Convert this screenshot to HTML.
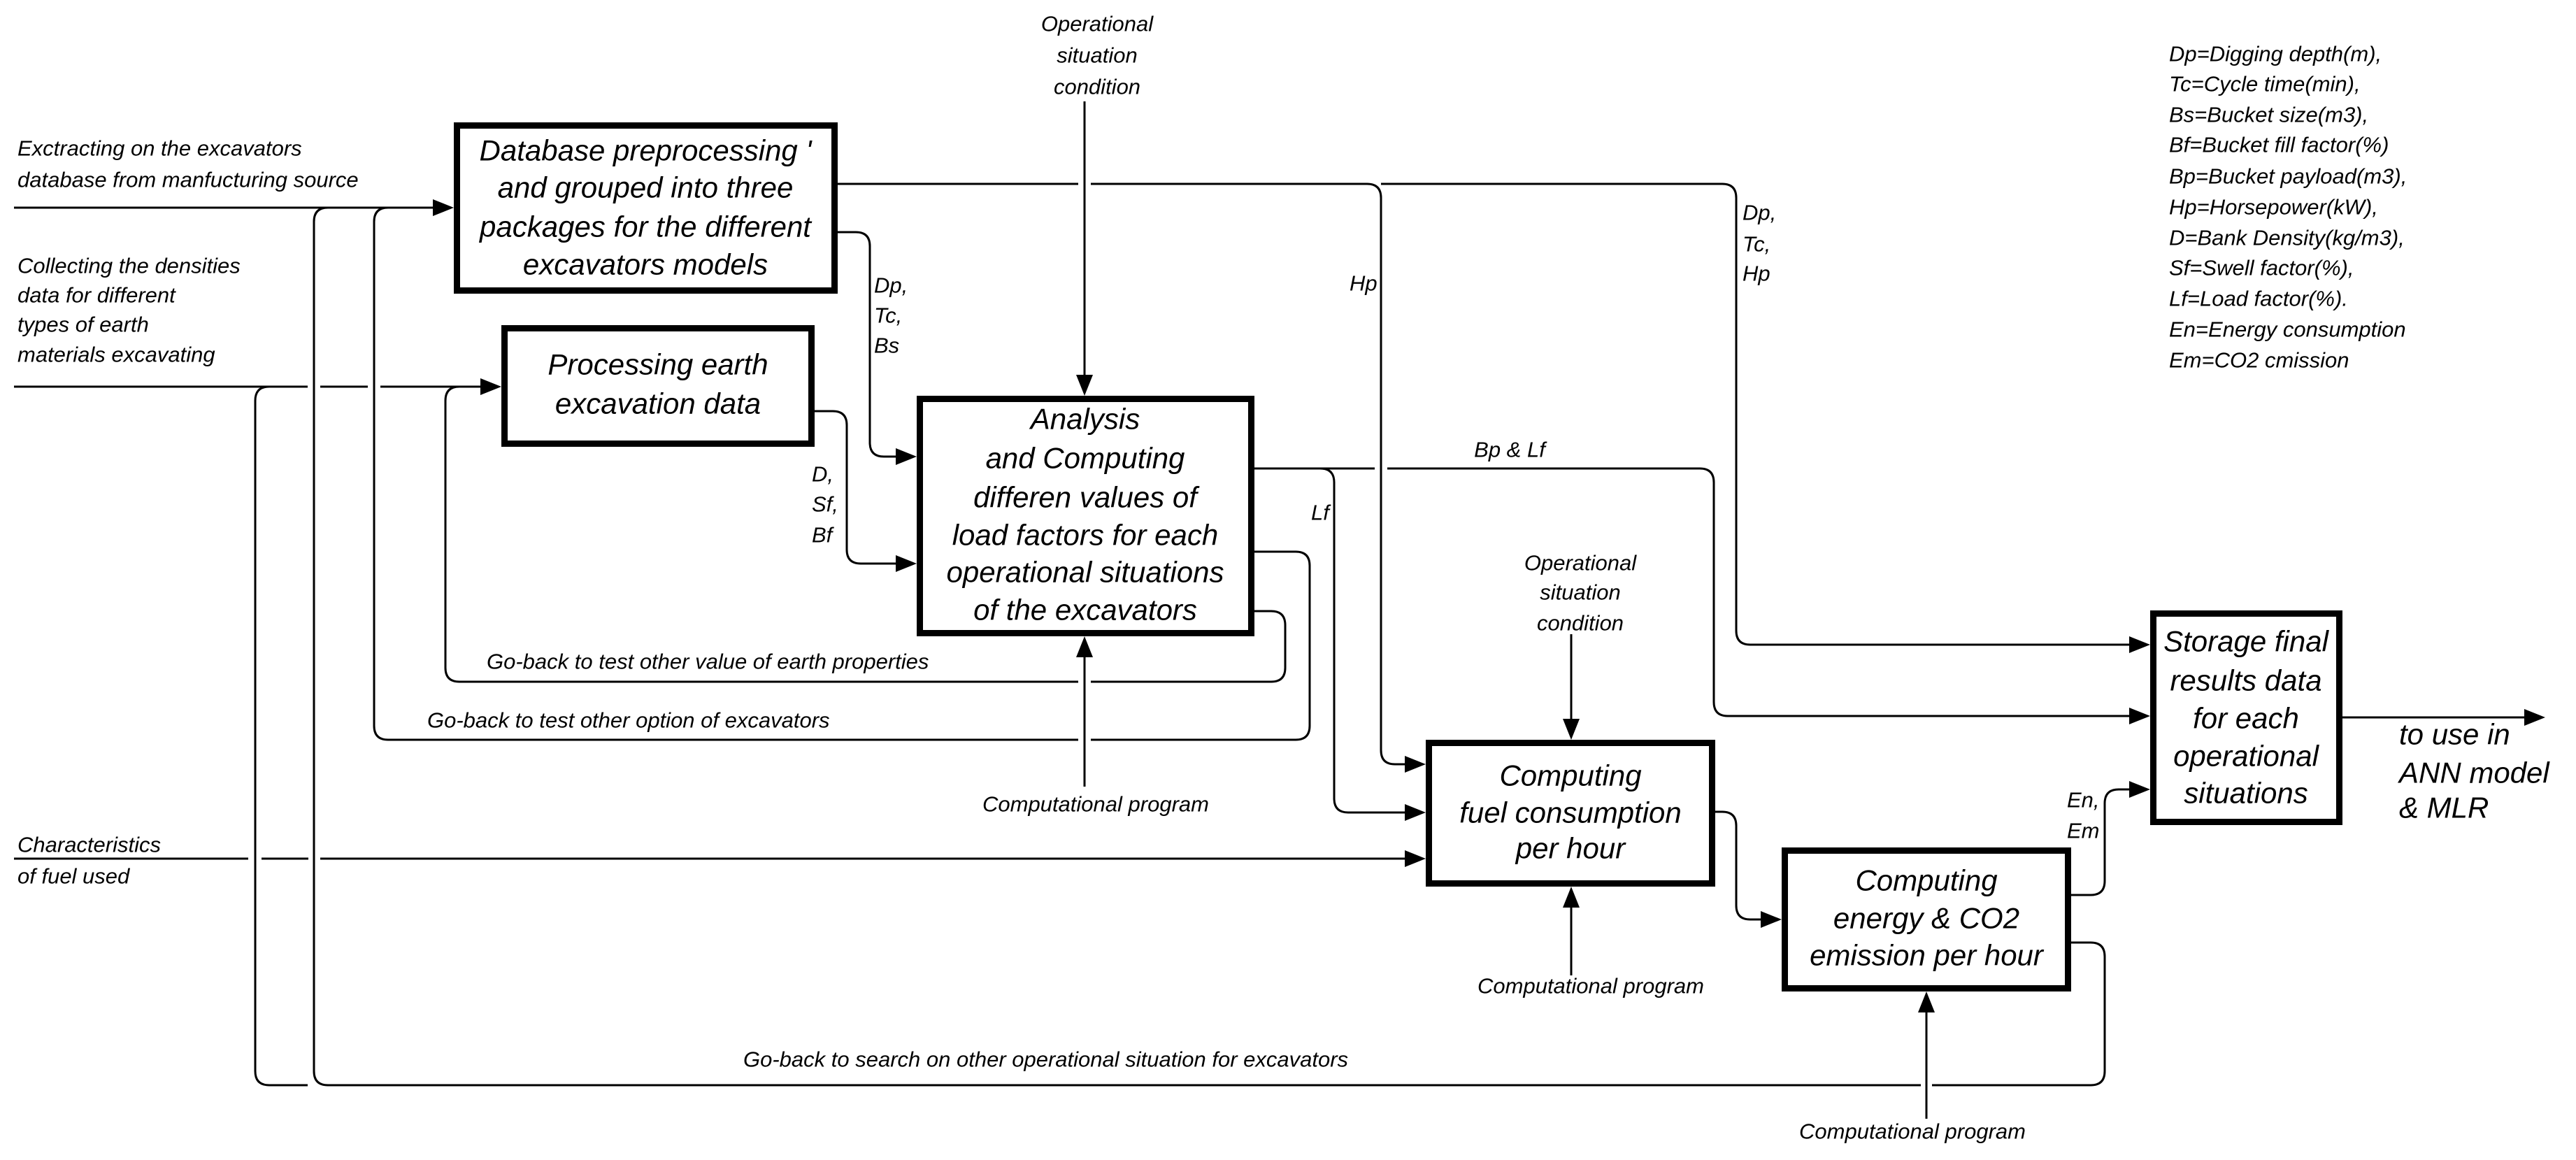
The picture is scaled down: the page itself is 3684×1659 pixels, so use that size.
<!DOCTYPE html>
<html><head><meta charset="utf-8"><style>
html,body{margin:0;padding:0;background:#fff;}
svg{display:block;}
text{font-family:"Liberation Sans",Arial,sans-serif;font-style:italic;fill:#000;}
.s{font-size:31px;}
.b{font-size:42px;text-anchor:middle;dominant-baseline:central;}
.l{fill:none;stroke:#000;stroke-width:3;}
.bx{fill:#fff;stroke:#000;stroke-width:9;}
</style></head><body>
<svg width="3684" height="1659" viewBox="0 0 3684 1659" xmlns="http://www.w3.org/2000/svg">
<rect width="3684" height="1659" fill="#fff"/>
<g class="l">
<!-- inputs -->
<path d="M20 297 H625"/>
<path d="M20 553 H440 M458 553 H526 M544 553 H693"/>
<path d="M20 1228 H355 M374 1228 H441 M458 1228 H2015"/>
<!-- loops -->
<path d="M440 1552 H385 Q365 1552 365 1532 V573 Q365 553 385 553"/>
<path d="M2962 1348 H2990 Q3010 1348 3010 1368 V1532 Q3010 1552 2990 1552 H2763 M2747 1552 H469 Q449 1552 449 1532 V317 Q449 297 469 297"/>
<path d="M1794 789 H1853 Q1873 789 1873 809 V1038 Q1873 1058 1853 1058 H1560 M1542 1058 H555 Q535 1058 535 1038 V317 Q535 297 555 297"/>
<path d="M1794 874 H1818 Q1838 874 1838 894 V955 Q1838 975 1818 975 H1560 M1542 975 H657 Q637 975 637 955 V573 Q637 553 657 553"/>
<!-- to analysis -->
<path d="M1198 332 H1224 Q1244 332 1244 352 V633 Q1244 653 1264 653 H1290"/>
<path d="M1165 588 H1191 Q1211 588 1211 608 V786 Q1211 806 1231 806 H1290"/>
<path d="M1551 145 V545"/>
<path d="M1551 1125 V932"/>
<!-- DB upper output -->
<path d="M1198 263 H1542 M1560 263 H1955 Q1975 263 1975 283 V1073 Q1975 1093 1995 1093 H2015"/>
<path d="M1975 263 H2463 Q2483 263 2483 283 V902 Q2483 922 2503 922 H3052"/>
<!-- Bp & Lf -->
<path d="M1794 670 H1966 M1984 670 H2431 Q2451 670 2451 690 V1004 Q2451 1024 2471 1024 H3052"/>
<path d="M1888 670 Q1908 670 1908 690 V1142 Q1908 1162 1928 1162 H2015"/>
<!-- fuel -->
<path d="M2247 907 V1036"/>
<path d="M2247 1395 V1290"/>
<path d="M2453 1161 H2463 Q2483 1161 2483 1181 V1295 Q2483 1315 2503 1315 H2525"/>
<!-- energy -->
<path d="M2962 1280 H2990 Q3010 1280 3010 1260 V1149 Q3010 1129 3030 1129 H3052"/>
<path d="M2755 1600 V1440"/>
<path d="M3350 1026 H3615"/>
</g>
<g fill="#000">
<polygon points="649,297 619,285 619,309"/>
<polygon points="717,553 687,541 687,565"/>
<polygon points="2039,1228 2009,1216 2009,1240"/>
<polygon points="1311,653 1281,641 1281,665"/>
<polygon points="1311,806 1281,794 1281,818"/>
<polygon points="1551,566 1539,536 1563,536"/>
<polygon points="1551,910 1539,940 1563,940"/>
<polygon points="2039,1093 2009,1081 2009,1105"/>
<polygon points="2039,1162 2009,1150 2009,1174"/>
<polygon points="3075,922 3045,910 3045,934"/>
<polygon points="3075,1024 3045,1012 3045,1036"/>
<polygon points="3075,1129 3045,1117 3045,1141"/>
<polygon points="2247,1058 2235,1028 2259,1028"/>
<polygon points="2247,1268 2235,1298 2259,1298"/>
<polygon points="2548,1315 2518,1303 2518,1327"/>
<polygon points="2755,1418 2743,1448 2767,1448"/>
<polygon points="3640,1026 3610,1014 3610,1038"/>
</g>
<!-- boxes -->
<rect class="bx" x="653.5" y="179.5" width="540" height="236"/>
<rect class="bx" x="721.5" y="469.5" width="439" height="165"/>
<rect class="bx" x="1315.5" y="570.5" width="474" height="335"/>
<rect class="bx" x="2043.5" y="1062.5" width="405" height="201"/>
<rect class="bx" x="2552.5" y="1216.5" width="405" height="197"/>
<rect class="bx" x="3079.5" y="877.5" width="266" height="298"/>
<!-- box text -->
<text class="b" x="923" y="215">Database preprocessing '</text>
<text class="b" x="923" y="268">and grouped into three</text>
<text class="b" x="923" y="324">packages for the different</text>
<text class="b" x="923" y="378">excavators models</text>
<text class="b" x="941" y="521">Processing earth</text>
<text class="b" x="941" y="577">excavation data</text>
<text class="b" x="1552" y="599">Analysis</text>
<text class="b" x="1552" y="655">and Computing</text>
<text class="b" x="1552" y="711">differen values of</text>
<text class="b" x="1552" y="765">load factors for each</text>
<text class="b" x="1552" y="818">operational situations</text>
<text class="b" x="1552" y="872">of the excavators</text>
<text class="b" x="2246" y="1109">Computing</text>
<text class="b" x="2246" y="1162">fuel consumption</text>
<text class="b" x="2246" y="1213">per hour</text>
<text class="b" x="2755" y="1259">Computing</text>
<text class="b" x="2755" y="1313">energy &amp; CO2</text>
<text class="b" x="2755" y="1366">emission per hour</text>
<text class="b" x="3212" y="917">Storage final</text>
<text class="b" x="3212" y="973">results data</text>
<text class="b" x="3212" y="1027">for each</text>
<text class="b" x="3212" y="1081">operational</text>
<text class="b" x="3212" y="1134">situations</text>
<g class="b" style="text-anchor:start">
<text x="3431" y="1050" class="b" style="text-anchor:start">to use in</text>
<text x="3431" y="1105" class="b" style="text-anchor:start">ANN model</text>
<text x="3431" y="1155" class="b" style="text-anchor:start">&amp; MLR</text>
</g>
<!-- small labels -->
<g class="s" style="dominant-baseline:central">
<text x="25" y="212">Exctracting on the excavators</text>
<text x="25" y="257">database from manfucturing source</text>
<text x="25" y="380">Collecting the densities</text>
<text x="25" y="422">data for different</text>
<text x="25" y="464">types of earth</text>
<text x="25" y="507">materials excavating</text>
<text x="25" y="1208">Characteristics</text>
<text x="25" y="1253">of fuel used</text>
<text x="696" y="946">Go-back to test other value of earth properties</text>
<text x="611" y="1030">Go-back to test other option of excavators</text>
<text x="1063" y="1515">Go-back to search on other operational situation for excavators</text>
<text x="1250" y="408">Dp,</text>
<text x="1250" y="451">Tc,</text>
<text x="1250" y="494">Bs</text>
<text x="1161" y="678">D,</text>
<text x="1161" y="721">Sf,</text>
<text x="1161" y="765">Bf</text>
<text x="1930" y="405">Hp</text>
<text x="2492" y="304">Dp,</text>
<text x="2492" y="349">Tc,</text>
<text x="2492" y="391">Hp</text>
<text x="2159" y="643" text-anchor="middle">Bp &amp; Lf</text>
<text x="1875" y="733">Lf</text>
<text x="2956" y="1144">En,</text>
<text x="2956" y="1188">Em</text>
<text x="1569" y="34" text-anchor="middle">Operational</text>
<text x="1569" y="79" text-anchor="middle">situation</text>
<text x="1569" y="124" text-anchor="middle">condition</text>
<text x="1567" y="1150" text-anchor="middle">Computational program</text>
<text x="2260" y="805" text-anchor="middle">Operational</text>
<text x="2260" y="847" text-anchor="middle">situation</text>
<text x="2260" y="891" text-anchor="middle">condition</text>
<text x="2275" y="1410" text-anchor="middle">Computational program</text>
<text x="2735" y="1618" text-anchor="middle">Computational program</text>
<text x="3102" y="77">Dp=Digging depth(m),</text>
<text x="3102" y="120">Tc=Cycle time(min),</text>
<text x="3102" y="164">Bs=Bucket size(m3),</text>
<text x="3102" y="207">Bf=Bucket fill factor(%)</text>
<text x="3102" y="252">Bp=Bucket payload(m3),</text>
<text x="3102" y="296">Hp=Horsepower(kW),</text>
<text x="3102" y="340">D=Bank Density(kg/m3),</text>
<text x="3102" y="383">Sf=Swell factor(%),</text>
<text x="3102" y="427">Lf=Load factor(%).</text>
<text x="3102" y="471">En=Energy consumption</text>
<text x="3102" y="515">Em=CO2 cmission</text>
</g>
</svg>
</body></html>
